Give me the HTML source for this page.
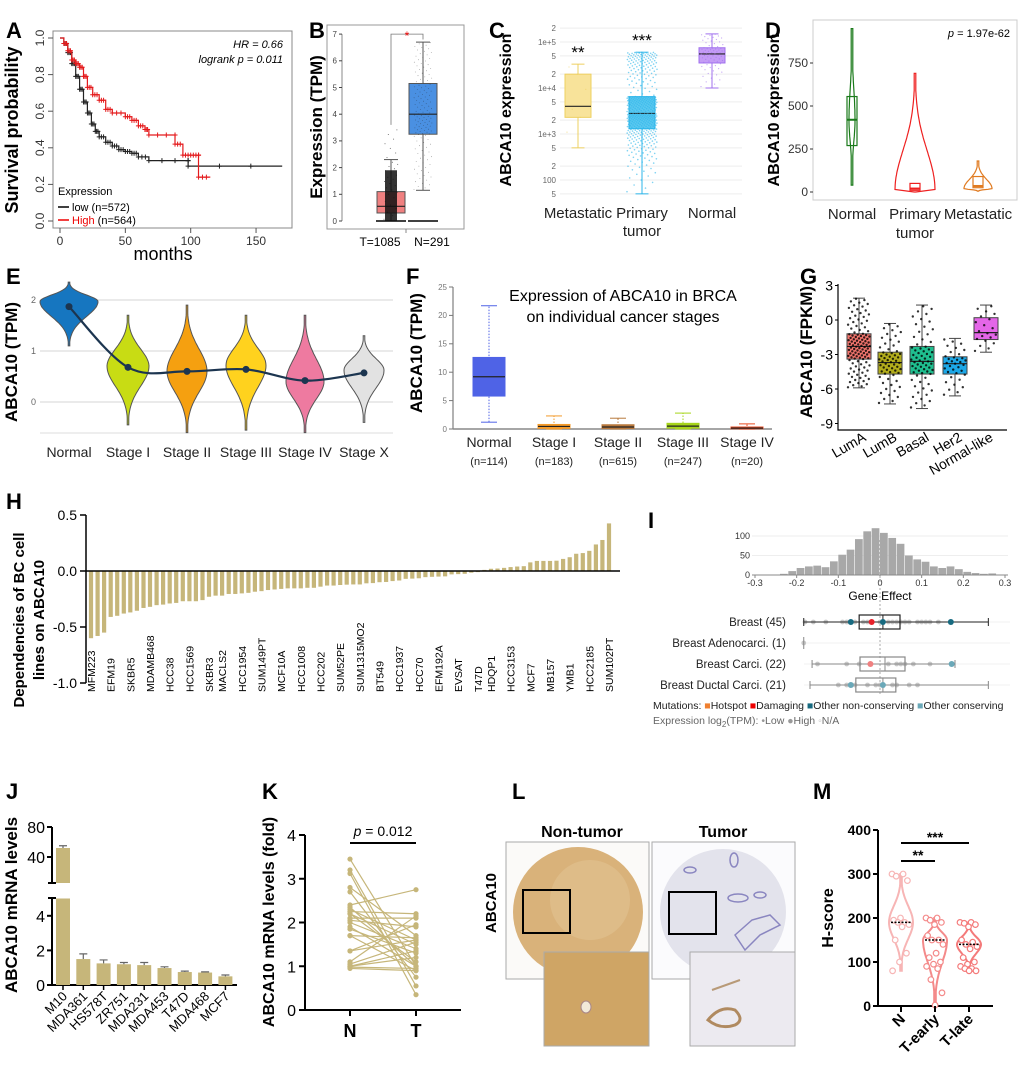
<!DOCTYPE html>
<html><head><meta charset="utf-8">
<style>
html,body{margin:0;padding:0;background:#fff;}
svg{display:block;font-family:"Liberation Sans",Arial,sans-serif;}
</style></head>
<body>
<svg id="fig" width="1020" height="1067" viewBox="0 0 1020 1067" xmlns="http://www.w3.org/2000/svg">
<rect x="0" y="0" width="1020" height="1067" fill="#fff"/>
<g font-weight="bold" font-size="22" fill="#000">
<text x="6" y="38">A</text>
<text x="309" y="38">B</text>
<text x="489" y="38">C</text>
<text x="765" y="38">D</text>
<text x="6" y="284">E</text>
<text x="406" y="284">F</text>
<text x="800" y="284">G</text>
<text x="6" y="509">H</text>
<text x="648" y="528">I</text>
<text x="6" y="799">J</text>
<text x="262" y="799">K</text>
<text x="512" y="799">L</text>
<text x="813" y="799">M</text>
</g>
<!-- Panel A static -->
<rect x="53" y="31" width="239" height="197" fill="none" stroke="#888" stroke-width="1"/>
<text x="18" y="130" font-size="18" text-anchor="middle" transform="rotate(-90 18 130)" font-weight="600">Survival probability</text>
<text x="163" y="260" font-size="18" text-anchor="middle">months</text>
<text x="283" y="48" font-size="11" font-style="italic" text-anchor="end">HR = 0.66</text>
<text x="283" y="63" font-size="11" font-style="italic" text-anchor="end">logrank p = 0.011</text>
<text x="58" y="195" font-size="11">Expression</text>
<line x1="58" y1="207" x2="69" y2="207" stroke="#000" stroke-width="1.5"/>
<text x="72" y="211" font-size="11">low (n=572)</text>
<line x1="58" y1="220" x2="69" y2="220" stroke="#e00" stroke-width="1.5"/>
<text x="72" y="224" font-size="11"><tspan fill="#e00">High</tspan> (n=564)</text>
<!-- Panel B static -->
<rect x="327" y="25" width="137" height="204" fill="none" stroke="#999"/>
<text x="322" y="127" font-size="17" font-weight="600" text-anchor="middle" transform="rotate(-90 322 127)">Expression (TPM)</text>
<!-- Panel C static -->
<text x="511" y="110" font-size="16" font-weight="bold" text-anchor="middle" transform="rotate(-90 511 110)">ABCA10 expression</text>
<!-- Panel D static -->
<rect x="813" y="20" width="204" height="180" fill="none" stroke="#ccc"/>
<text x="779" y="110" font-size="16" font-weight="bold" text-anchor="middle" transform="rotate(-90 779 110)">ABCA10 expression</text>
<text x="1010" y="37" font-size="11" text-anchor="end"><tspan font-style="italic">p</tspan> = 1.97e-62</text>
<!-- Panel E static -->
<text x="17" y="362" font-size="17" font-weight="bold" text-anchor="middle" transform="rotate(-90 17 362)">ABCA10 (TPM)</text>
<!-- Panel F static -->
<text x="422" y="353" font-size="17" font-weight="bold" text-anchor="middle" transform="rotate(-90 422 353)">ABCA10 (TPM)</text>
<text x="623" y="301" font-size="16" text-anchor="middle">Expression of ABCA10 in BRCA</text>
<text x="623" y="322" font-size="16" text-anchor="middle">on individual cancer stages</text>
<!-- Panel G static -->
<text x="812" y="352" font-size="17" font-weight="bold" text-anchor="middle" transform="rotate(-90 812 352)">ABCA10 (FPKM)</text>
<!-- Panel H static -->
<text x="24" y="620" font-size="15" font-weight="bold" text-anchor="middle" transform="rotate(-90 24 620)">Dependencies of BC cell</text>
<text x="44" y="620" font-size="15" font-weight="bold" text-anchor="middle" transform="rotate(-90 44 620)">lines on ABCA10</text>
<!-- Panel I static -->
<text x="880" y="600" font-size="12" text-anchor="middle">Gene Effect</text>
<text x="653" y="709" font-size="10.5" fill="#222">Mutations: <tspan fill="#f08030">■</tspan>Hotspot <tspan fill="#e00">■</tspan>Damaging <tspan fill="#176a80">■</tspan>Other non-conserving <tspan fill="#6aa8b8">■</tspan>Other conserving</text>
<text x="653" y="724" font-size="10.5" fill="#666">Expression log<tspan font-size="8" dy="3">2</tspan><tspan dy="-3">(TPM): </tspan><tspan fill="#999">•</tspan>Low <tspan fill="#999">●</tspan>High <tspan fill="#bbb">◦</tspan>N/A</text>
<!-- Panel J static -->
<text x="17" y="905" font-size="17" font-weight="bold" text-anchor="middle" transform="rotate(-90 17 905)">ABCA10 mRNA levels</text>
<!-- Panel K static -->
<text x="274" y="922" font-size="16" font-weight="bold" text-anchor="middle" transform="rotate(-90 274 922)">ABCA10 mRNA levels (fold)</text>
<!-- Panel L static -->
<text x="496" y="903" font-size="15" font-weight="bold" text-anchor="middle" transform="rotate(-90 496 903)">ABCA10</text>
<text x="582" y="837" font-size="16" font-weight="bold" text-anchor="middle">Non-tumor</text>
<text x="723" y="837" font-size="16" font-weight="bold" text-anchor="middle">Tumor</text>
<g>
<rect x="506" y="842" width="143" height="137" fill="#fbfaf8" stroke="#aaa"/>
<circle cx="578" cy="912" r="65" fill="#d9b27a"/>
<circle cx="590" cy="900" r="40" fill="#e0c08e" opacity="0.7"/>
<rect x="523" y="890" width="47" height="43" fill="none" stroke="#000" stroke-width="2"/>
<rect x="544" y="952" width="105" height="94" fill="#cfa565" stroke="#aaa"/>
<ellipse cx="586" cy="1007" rx="5" ry="6" fill="#f2ead8" stroke="#a88"/>
</g>
<g>
<rect x="652" y="842" width="143" height="137" fill="#fbfbfd" stroke="#aaa"/>
<circle cx="723" cy="912" r="63" fill="#e3e3ec"/>
<g fill="none" stroke="#8a86c0" stroke-width="1.5">
<ellipse cx="690" cy="870" rx="6" ry="3"/>
<ellipse cx="734" cy="860" rx="4" ry="7"/>
<ellipse cx="738" cy="898" rx="10" ry="4"/>
<ellipse cx="760" cy="895" rx="6" ry="3"/>
<path d="M735 935 L752 920 L770 915 L780 925 L760 935 L745 950 Z"/>
</g>
<rect x="669" y="892" width="47" height="42" fill="none" stroke="#000" stroke-width="2"/>
<rect x="690" y="952" width="105" height="94" fill="#eceaf0" stroke="#aaa"/>
<path d="M708 1020 Q720 1005 735 1010 Q745 1020 735 1025 Q720 1030 708 1020 Z" fill="none" stroke="#b08a60" stroke-width="3"/>
<path d="M712 990 L740 980" stroke="#b89a78" stroke-width="2"/>
</g>
<!-- Panel M static -->
<text x="833" y="918" font-size="16" font-weight="bold" text-anchor="middle" transform="rotate(-90 833 918)">H-score</text>
<g id="dyn"></g>
</svg>
<script>
// ================= DATA =================
const kmLowT=[0,3,6,9,12,15,18,21,24,27,30,35,40,45,50,55,60,68,98,98,170];
const kmLowS=[1,.97,.92,.86,.79,.72,.65,.59,.53,.49,.46,.43,.41,.39,.38,.37,.35,.33,.33,.30,.30];
const kmHighT=[0,3,6,9,12,15,18,21,25,30,35,40,50,55,60,65,68,88,88,94,100,106,106,115];
const kmHighS=[1,.97,.93,.88,.86,.84,.79,.73,.69,.66,.61,.59,.57,.55,.52,.50,.47,.47,.42,.36,.36,.36,.24,.24];
const kmXTicks=[0,50,100,150];
const kmYTicks=[0,0.2,0.4,0.6,0.8,1.0];
const bCats=['T=1085','N=291'];
const bStats=[[0,0.3,0.55,1.1,2.3],[1.15,3.25,4.0,5.15,6.7]];
const bYTicks=[0,1,2,3,4,5,6,7];
const cCats=['Metastatic','Primary tumor','Normal'];
const cStats=[[500,2300,4000,20000,33000],[50,1300,2800,6500,60000],[10000,35000,55000,75000,150000]];
const cStars=['**','***',''];
const cTickVals=[50,100,200,500,1000,2000,5000,10000,20000,50000,100000,200000];
const cTickLbls=['5','100','2','5','1e+3','2','5','1e+4','2','5','1e+5','2'];
const dCats=['Normal','Primary tumor','Metastatic'];
const dViol=[[40,420,950],[0,12,690],[5,20,180]];
const dBox=[[270,420,555],[10,20,50],[25,35,90]];
const dYTicks=[0,250,500,750];
const eCats=['Normal','Stage I','Stage II','Stage III','Stage IV','Stage X'];
const eMeans=[1.87,0.68,0.60,0.64,0.42,0.57];
const eViol=[[1.1,1.97,2.35],[-0.45,0.7,1.7],[-0.6,0.6,1.9],[-0.55,0.72,1.7],[-0.6,0.4,1.7],[-0.4,0.62,1.3]];
const eYTicks=[0,1,2];
const fCats=['Normal','Stage I','Stage II','Stage III','Stage IV'];
const fN=['(n=114)','(n=183)','(n=615)','(n=247)','(n=20)'];
const fStats=[[1.2,5.8,9.2,12.6,21.7],[0,0.1,0.45,0.8,2.3],[0,0.08,0.35,0.75,1.9],[0,0.15,0.5,1.0,2.8],[0,0.05,0.15,0.35,0.9]];
const fYTicks=[0,5,10,15,20,25];
const gCats=['LumA','LumB','Basal','Her2','Normal-like'];
const gStats=[[-5.9,-3.4,-2.3,-1.2,1.9],[-7.3,-4.7,-3.7,-2.8,-0.3],[-7.7,-4.7,-3.6,-2.3,1.3],[-6.6,-4.7,-3.8,-3.2,-1.6],[-2.8,-1.7,-1.1,0.2,1.3]];
const gYTicks=[-9,-6,-3,0,3];
const hVals=[-0.6,-0.58,-0.55,-0.41,-0.40,-0.38,-0.37,-0.355,-0.33,-0.32,-0.305,-0.30,-0.29,-0.285,-0.27,-0.27,-0.27,-0.26,-0.23,-0.22,-0.22,-0.205,-0.205,-0.2,-0.195,-0.185,-0.18,-0.17,-0.165,-0.16,-0.155,-0.155,-0.155,-0.15,-0.15,-0.14,-0.13,-0.13,-0.125,-0.122,-0.12,-0.12,-0.11,-0.108,-0.10,-0.098,-0.09,-0.085,-0.07,-0.068,-0.065,-0.055,-0.052,-0.05,-0.048,-0.03,-0.028,-0.025,-0.015,-0.01,0.01,0.02,0.022,0.028,0.035,0.04,0.043,0.077,0.09,0.09,0.09,0.092,0.108,0.123,0.154,0.16,0.18,0.237,0.277,0.425];
const hLabels=['MFM223','EFM19','SKBR5','MDAMB468','HCC38','HCC1569','SKBR3','MACLS2','HCC1954','SUM149PT','MCF10A','HCC1008','HCC202','SUM52PE','SUM1315MO2','BT549','HCC1937','HCC70','EFM192A','EVSAT','T47D','HDQP1','HCC3153','MCF7','MB157','YMB1','HCC2185','SUM102PT'];
const hYTicks=[-1.0,-0.5,0.0,0.5];
const iBinCenters=[-0.29,-0.27,-0.25,-0.23,-0.21,-0.19,-0.17,-0.15,-0.13,-0.11,-0.09,-0.07,-0.05,-0.03,-0.01,0.01,0.03,0.05,0.07,0.09,0.11,0.13,0.15,0.17,0.19,0.21,0.23,0.25,0.27,0.29];
const iCounts=[1,1,1,3,10,18,22,24,20,35,52,65,92,112,120,108,95,80,50,40,34,22,18,22,15,8,5,3,4,1];
const iXTicks=[-0.3,-0.2,-0.1,0,0.1,0.2,0.3];
const iYTicks=[0,50,100];
const iRows=['Breast (45)','Breast Adenocarci. (1)','Breast Carci. (22)','Breast Ductal Carci. (21)'];
const iStats=[[-0.183,-0.05,0.007,0.048,0.26],null,[-0.163,-0.048,0.012,0.06,0.18],[-0.168,-0.058,0.007,0.038,0.26]];
const iGrey=[[-0.18,-0.16,-0.13,-0.09,-0.08,-0.06,-0.04,-0.03,0.0,0.02,0.03,0.04,0.05,0.06,0.07,0.09,0.1,0.11,0.12,0.14],[-0.183],[-0.15,-0.08,-0.05,0.02,0.04,0.05,0.06,0.08,0.12],[-0.1,-0.08,-0.06,-0.03,-0.01,0.0,0.03,0.04,0.07,0.09]];
const iMutVals=[[-0.07,-0.02,0.007,0.17],[],[-0.023,0.172],[-0.07,0.007]];
const iMutCols=[['#176a80','#e8202a','#176a80','#176a80'],[],['#f08080','#6aa8b8'],['#6aa8b8','#6aa8b8']];
const jCats=['M10','MDA361','HS578T','ZR751','MDA231','MDA453','T47D','MDA468','MCF7'];
const jVals=[52,1.5,1.25,1.2,1.15,0.98,0.75,0.72,0.5];
const jErr=[3,0.3,0.2,0.1,0.15,0.07,0.05,0.04,0.08];
const kN=[3.45,3.2,3.12,2.8,2.7,2.4,2.35,2.3,2.25,2.2,2.2,2.1,2.05,2.0,1.9,1.85,1.7,1.7,1.35,1.35,1.1,1.05,1.0,1.0,0.98,0.95];
const kT=[1.0,0.55,0.35,1.7,0.75,2.75,1.0,1.6,2.2,1.5,1.1,2.1,1.9,1.4,1.0,1.3,1.65,0.9,1.95,1.6,2.15,1.55,1.35,1.2,0.95,0.9];
const kYTicks=[0,1,2,3,4];
const mCats=['N','T-early','T-late'];
const mViol=[[80,190,300],[0,150,200],[80,140,190]];
const mMed=[190,150,140];
const mPts=[[300,300,295,285,200,195,190,190,185,180,150,120,100,80],[200,200,195,190,185,160,150,150,140,120,110,100,95,90,85,60,30,2],[190,190,188,185,180,150,145,140,135,130,110,100,95,90,85,85,80,80]];
const mYTicks=[0,100,200,300,400];

// ================= HELPERS =================
const NS='http://www.w3.org/2000/svg';
const root=document.getElementById('dyn');
function mk(tag,a,p){const e=document.createElementNS(NS,tag);for(const k in a)e.setAttribute(k,a[k]);(p||root).appendChild(e);return e;}
function tx(s,a,p){const e=mk('text',a,p);e.textContent=s;return e;}
function qv(st,u){const qs=[0,0.25,0.5,0.75,1];for(let i=0;i<4;i++){if(u<=qs[i+1]){const f=(u-qs[i])/(qs[i+1]-qs[i]);return st[i]+(st[i+1]-st[i])*f;}}return st[4];}
function frac(x){return x-Math.floor(x);}
function violinD(cx,ys,lo,mode,hi,w){const n=48,L=[],R=[];for(let i=0;i<=n;i++){const v=lo+(hi-lo)*i/n;const s=v<mode?(mode-lo)/2.1:(hi-mode)/2.1;const hw=Math.max(0.8,w*Math.exp(-Math.pow((v-mode)/(s||1),2)));L.push([cx-hw,ys(v)]);R.push([cx+hw,ys(v)]);}
 const pts=L.concat(R.reverse());return 'M'+pts.map(p=>p[0].toFixed(1)+' '+p[1].toFixed(1)).join(' L')+' Z';}
function box(cx,ys,st,w,fill,stroke,dashW,g){
 let e=mk('line',{x1:cx,x2:cx,y1:ys(st[0]),y2:ys(st[4]),stroke:stroke,'stroke-width':1,'stroke-dasharray':dashW||'none'},g);
 
 
 e=mk('line',{x1:cx-w/4,x2:cx+w/4,y1:ys(st[4]),y2:ys(st[4]),stroke:stroke},g);
 
 
 e=mk('line',{x1:cx-w/4,x2:cx+w/4,y1:ys(st[0]),y2:ys(st[0]),stroke:stroke},g);
 
 
 e=mk('rect',{x:cx-w/2,y:ys(st[3]),width:w,height:Math.max(1,ys(st[1])-ys(st[3])),fill:fill,stroke:stroke},g);
 
 
 e=mk('line',{x1:cx-w/2,x2:cx+w/2,y1:ys(st[2]),y2:ys(st[2]),stroke:'#222','stroke-width':1.2},g);
 
 
}
function jitter(n,st,cx,w,ys,r,col,op,g){for(let i=0;i<n;i++){const u=(i+0.5)/n;const v=qv(st,u);const x=cx+(frac(i*0.6180339)-0.5)*w;
 const e=mk('circle',{cx:x.toFixed(1),cy:ys(v).toFixed(1),r:r,fill:col,opacity:op},g);
 
 }}
function yTicks(vals,ys,x,lbls,size,col,g,len){vals.forEach((v,i)=>{const y=ys(v);
 let e=mk('line',{x1:x-(len||4),x2:x,y1:y,y2:y,stroke:col||'#000'},g);
 
 
 e=tx(lbls?lbls[i]:String(v),{x:x-(len||4)-2,y:y+size*0.35,'font-size':size,'text-anchor':'end',fill:col||'#000'},g);
 
 });}

// ================= PANEL A =================
(function(){
 const g=mk('g',{});
 
 
 const xs=t=>60+t*1.307, ys=s=>221-s*183;
 kmXTicks.forEach(t=>{let e=mk('line',{x1:xs(t),x2:xs(t),y1:228,y2:233,stroke:'#555'},g);
  
  
  e=tx(String(t),{x:xs(t),y:245,'font-size':12,'text-anchor':'middle',fill:'#333'},g);
  
  });
 kmYTicks.forEach(v=>{let e=mk('line',{x1:48,x2:53,y1:ys(v),y2:ys(v),stroke:'#555'},g);
  
  
  e=tx(v.toFixed(1),{x:44,y:ys(v),'font-size':12,'text-anchor':'middle',fill:'#333',transform:`rotate(-90 44 ${ys(v)})`},g);
  
  });
 function curve(T,S,col,name){let d=`M${xs(T[0])} ${ys(S[0])}`;for(let i=1;i<T.length;i++){d+=` L${xs(T[i]).toFixed(1)} ${ys(S[i-1]).toFixed(1)} L${xs(T[i]).toFixed(1)} ${ys(S[i]).toFixed(1)}`;}
  const p=mk('path',{d:d,fill:'none',stroke:col,'stroke-width':1.2},g);
  
  
  for(let i=1;i<T.length-1;i++){for(let k=0;k<3;k++){const t=T[i]+(T[i+1]-T[i])*k/3;const x=xs(t),y=ys(S[i]);
   const c=mk('path',{d:`M${x-2.5} ${y}h5M${x} ${y-2.5}v5`,stroke:col,'stroke-width':1},g);
   
   }}}
 curve(kmLowT,kmLowS,'#222','km-curve-low');
 curve(kmHighT,kmHighS,'#e41a1c','km-curve-high');
})();

// ================= PANEL B =================
(function(){
 const g=mk('g',{});
 
 
 const ys=v=>221-v*26.7, xc=[391,423], lx=[380,432];
 let e=mk('line',{x1:342,x2:342,y1:ys(0),y2:ys(7),stroke:'#888'},g);
 
 
 yTicks(bYTicks,ys,342,null,8,'#444',g,3);
 const cols=['#f08080','#4a90e2'];
 bCats.forEach((c,i)=>{
  box(xc[i],ys,bStats[i],28,cols[i],'#555',null,g);
  e=mk('line',{x1:xc[i]-15,x2:xc[i]+15,y1:ys(0),y2:ys(0),stroke:'#000','stroke-width':1.5},g);
  
  
  e=tx(c,{x:lx[i],y:246,'font-size':12,'text-anchor':'middle'},g);
  
  
  e=mk('line',{x1:(lx[0]+lx[1])/2,x2:(lx[0]+lx[1])/2,y1:229,y2:233,stroke:'#888'},g);
  
  
 });
 e=mk('rect',{x:xc[0]-6,y:ys(1.9),width:12,height:ys(0)-ys(1.9),fill:'#111',opacity:0.85},g);
 
 
 jitter(30,[0,1.0,1.6,2.2,3.5],xc[0],14,ys,0.5,'#111',0.7,g);
 jitter(140,[1.15,3.2,4.0,5.1,6.7],xc[1],18,ys,0.4,'#222',0.6,g);
 e=mk('path',{d:`M${xc[0]} ${ys(3.6)} V${ys(7)} H${xc[1]} V${ys(6.8)}`,fill:'none',stroke:'#777','stroke-width':0.8},g);
 
 
 e=tx('*',{x:(xc[0]+xc[1])/2,y:ys(7)+6,'font-size':12,'text-anchor':'middle',fill:'#e00'},g);
 
 
})();

// ================= PANEL C =================
(function(){
 const g=mk('g',{});
 
 
 const ys=v=>88-46*Math.log10(v/10000), xc=[578,642,712];
 cTickVals.forEach((v,i)=>{let e=mk('line',{x1:560,x2:742,y1:ys(v),y2:ys(v),stroke:'#eee'},g);
  
  
  e=tx(cTickLbls[i],{x:556,y:ys(v)+3,'font-size':8,'text-anchor':'end',fill:'#666'},g);
  
  });
 const fills=['#f8e39a','#5bc8f0','#c49cf5'], strokes=['#eed060','#2bb5ea','#a070ee'];
 cCats.forEach((c,i)=>{
  box(xc[i],ys,cStats[i],26,fills[i],strokes[i],null,g);
  const n=[6,450,70][i];
  jitter(n,cStats[i],xc[i],i==1?30:22,ys,i==1?0.8:0.6,strokes[i],0.6,g);
  let e=tx(cStars[i],{x:xc[i],y:ys(cStats[i][4])-6,'font-size':17,'text-anchor':'middle'},g);
  
  
  const parts=c.split(' ');
  parts.forEach((p,k)=>{e=tx(p,{x:xc[i],y:218+k*18,'font-size':15,'text-anchor':'middle',fill:'#222'},g);
   
   });
 });
})();

// ================= PANEL D =================
(function(){
 const g=mk('g',{});
 
 
 const ys=v=>192-v*0.172, xc=[852,915,978];
 yTicks(dYTicks,ys,813,null,12,'#333',g,3);
 const cols=['#1a7a1a','#ee2020','#e07a20'], ws=[3,20,14];
 dCats.forEach((c,i)=>{
  let e=mk('path',{d:violinD(xc[i],ys,dViol[i][0],dViol[i][1],dViol[i][2],ws[i]),fill:'#fff',stroke:cols[i],'stroke-width':1.2},g);
  
  
  const b=dBox[i];
  e=mk('rect',{x:xc[i]-5,y:ys(b[2]),width:10,height:Math.max(2,ys(b[0])-ys(b[2])),fill:'none',stroke:cols[i],'stroke-width':1.2},g);
  
  
  e=mk('line',{x1:xc[i]-5,x2:xc[i]+5,y1:ys(b[1]),y2:ys(b[1]),stroke:cols[i],'stroke-width':2},g);
  
  
  const parts=c.split(' ');
  parts.forEach((p,k)=>{e=tx(p,{x:xc[i],y:219+k*19,'font-size':15,'text-anchor':'middle',fill:'#222'},g);
   
   });
 });
})();

// ================= PANEL E =================
(function(){
 const g=mk('g',{});
 
 
 const ys=v=>402-v*51, xc=[69,128,187,246,305,364];
 eYTicks.forEach(v=>{let e=mk('line',{x1:40,x2:393,y1:ys(v),y2:ys(v),stroke:'#ddd','stroke-width':1.2},g);
  
  
  e=tx(String(v),{x:36,y:ys(v)+3,'font-size':9,'text-anchor':'end',fill:'#666'},g);
  
  });
 let e=mk('line',{x1:40,x2:393,y1:433,y2:433,stroke:'#ddd'},g);
 
 
 const cols=['#1676c0','#c8dc14','#f5a010','#ffd21e','#ee7aa0','#e2e2e2'], ws=[29,21,20,20,19,20];
 eCats.forEach((c,i)=>{
  const v=eViol[i];
  e=mk('path',{d:violinD(xc[i],ys,v[0],v[1],v[2],ws[i]),fill:cols[i],stroke:'#555','stroke-width':1},g);
  
  
  e=tx(c,{x:xc[i],y:457,'font-size':14,'text-anchor':'middle',fill:'#222'},g);
  
  
 });
 const P=eMeans.map((m,i)=>[xc[i],ys(m)]);
 let d=`M${P[0][0]} ${P[0][1]}`;
 for(let i=0;i<P.length-1;i++){const p0=P[Math.max(0,i-1)],p1=P[i],p2=P[i+1],p3=P[Math.min(P.length-1,i+2)];
  const c1=[p1[0]+(p2[0]-p0[0])/6,p1[1]+(p2[1]-p0[1])/6],c2=[p2[0]-(p3[0]-p1[0])/6,p2[1]-(p3[1]-p1[1])/6];
  d+=` C${c1[0].toFixed(1)} ${c1[1].toFixed(1)} ${c2[0].toFixed(1)} ${c2[1].toFixed(1)} ${p2[0]} ${p2[1].toFixed(1)}`;}
 e=mk('path',{d:d,fill:'none',stroke:'#1c3550','stroke-width':2.2},g);
 
 
 P.forEach(p=>{const c=mk('circle',{cx:p[0],cy:p[1],r:3.5,fill:'#1c3550'},g);
  
  });
})();

// ================= PANEL F =================
(function(){
 const g=mk('g',{});
 
 
 const ys=v=>429-v*5.68, xc=[489,554,618,683,747];
 let e=mk('line',{x1:453,x2:453,y1:ys(0),y2:ys(25),stroke:'#666'},g);
 
 
 e=mk('line',{x1:453,x2:772,y1:ys(0),y2:ys(0),stroke:'#888','stroke-width':1.5},g);
 
 
 yTicks(fYTicks,ys,453,null,8,'#777',g,4);
 const fills=['#4f63e6','#f39a2a','#b8783c','#a6d41a','#e84a20'];
 fCats.forEach((c,i)=>{
  box(xc[i],ys,fStats[i],32,fills[i],fills[i],'1.5 1.5',g);
  e=tx(c,{x:xc[i],y:447,'font-size':14,'text-anchor':'middle',fill:'#222'},g);
  
  
  e=tx(fN[i],{x:xc[i],y:465,'font-size':11,'text-anchor':'middle',fill:'#222'},g);
  
  
 });
})();

// ================= PANEL G =================
(function(){
 const g=mk('g',{});
 
 
 const ys=v=>320-v*11.5, xc=[859,890,922,955,986];
 let e=mk('path',{d:`M838 284 V430 H1007`,fill:'none',stroke:'#000','stroke-width':1.2},g);
 
 
 yTicks(gYTicks,ys,838,null,14,'#000',g,3);
 const fills=['#f4766e','#b2ad1c','#1fbf8f','#1ca8e8','#e466e8'], n=[110,60,65,35,20];
 gCats.forEach((c,i)=>{
  box(xc[i],ys,gStats[i],24,fills[i],'#444',null,g);
  jitter(n[i],gStats[i],xc[i],22,ys,1.2,'#000',0.8,g);
  e=tx(c,{x:xc[i]+8,y:440,'font-size':14,'text-anchor':'end',transform:`rotate(-30 ${xc[i]+8} 440)`},g);
  
  
 });
})();

// ================= PANEL H =================
(function(){
 const g=mk('g',{});
 
 
 const ys=v=>571-v*112, x0=91, dx=(609-91)/(hVals.length-1);
 let e=mk('line',{x1:86,x2:86,y1:ys(0.5),y2:ys(-1),stroke:'#000','stroke-width':1.5},g);
 
 
 hYTicks.forEach(v=>{e=mk('line',{x1:80,x2:86,y1:ys(v),y2:ys(v),stroke:'#000','stroke-width':1.5},g);
  
  
  e=tx(v.toFixed(1),{x:77,y:ys(v)+5,'font-size':14,'text-anchor':'end'},g);
  
  });
 hVals.forEach((v,i)=>{const x=x0+i*dx;
  const b=mk('rect',{x:(x-2.1).toFixed(1),y:Math.min(ys(v),ys(0)),width:4.2,height:Math.abs(ys(v)-ys(0)),fill:'#c6b67a'},g);
  
  });
 e=mk('line',{x1:86,x2:620,y1:ys(0),y2:ys(0),stroke:'#000','stroke-width':1.5},g);
 
 
 hLabels.forEach((l,k)=>{const i=Math.round(k*(hVals.length-1)/(hLabels.length-1));const x=x0+i*dx+4;
  const t=tx(l,{x:x,y:692,'font-size':10.5,transform:`rotate(-90 ${x} 692)`},g);
  
  });
})();

// ================= PANEL I =================
(function(){
 const g=mk('g',{});
 
 
 const xs=v=>880+v*416.7, ys=c=>575-c*0.39, rowY=[622,643,664,685];
 iYTicks.forEach(v=>{let e=mk('line',{x1:752,x2:1008,y1:ys(v),y2:ys(v),stroke:'#eee'},g);
  
  
  e=tx(String(v),{x:750,y:ys(v)+3,'font-size':9,'text-anchor':'end',fill:'#333'},g);
  
  });
 iBinCenters.forEach((c,i)=>{const b=mk('rect',{x:xs(c-0.01),y:ys(iCounts[i]),width:416.7*0.02-0.6,height:ys(0)-ys(iCounts[i]),fill:'#a8a8a8'},g);
  
  });
 let e=mk('line',{x1:752,x2:1008,y1:ys(0),y2:ys(0),stroke:'#888'},g);
 
 
 iXTicks.forEach(v=>{e=mk('line',{x1:xs(v),x2:xs(v),y1:575,y2:578,stroke:'#888'},g);
  
  
  e=tx(v===0?'0':String(v),{x:xs(v),y:586,'font-size':9,'text-anchor':'middle',fill:'#333'},g);
  
  });
 e=mk('line',{x1:xs(0),x2:xs(0),y1:540,y2:695,stroke:'#aaa','stroke-dasharray':'2 2'},g);
 
 
 iRows.forEach((r,i)=>{const y=rowY[i];
  e=mk('line',{x1:804,x2:1010,y1:y,y2:y,stroke:'#f0f0f0'},g);
  
  
  e=tx(r,{x:786,y:y+4,'font-size':11.5,'text-anchor':'end',fill:'#222'},g);
  
  
  iGrey[i].forEach(v=>{const c=mk('circle',{cx:xs(v),cy:y,r:2.4,fill:'#c8c8c8'},g);
   
   });
  const st=iStats[i];const col=i==0?'#222':'#888';
  if(st){e=mk('line',{x1:xs(st[0]),x2:xs(st[4]),y1:y,y2:y,stroke:col},g);
   
   
   [st[0],st[4]].forEach(v=>{const c=mk('line',{x1:xs(v),x2:xs(v),y1:y-4,y2:y+4,stroke:col},g);
    
    });
   e=mk('rect',{x:xs(st[1]),y:y-7,width:xs(st[3])-xs(st[1]),height:14,fill:'none',stroke:col,'stroke-width':1.2},g);
   
   
   e=mk('line',{x1:xs(st[2]),x2:xs(st[2]),y1:y-7,y2:y+7,stroke:col},g);
   
   }
  else{e=mk('line',{x1:xs(iGrey[i][0]),x2:xs(iGrey[i][0]),y1:y-6,y2:y+6,stroke:'#888'},g);
   
   }
  iMutVals[i].forEach((v,k)=>{const c=mk('circle',{cx:xs(v),cy:y,r:3,fill:iMutCols[i][k]},g);
   
   });
 });
})();

// ================= PANEL J =================
(function(){
 const g=mk('g',{});
 
 
 const yl=v=>985-v*17.3, yu=v=>857-(v-40)*0.75, x0=63, dx=20.3;
 let e=mk('path',{d:'M52 827 V883 M48 883 H56 M48 898 H56 M52 898 V985 H237',fill:'none',stroke:'#000','stroke-width':2},g);
 
 
 [[40,yu],[80,yu]].forEach(p=>{const y=p[1](p[0]);e=mk('line',{x1:47,x2:52,y1:y,y2:y,stroke:'#000','stroke-width':2},g);
  
  
  e=tx(String(p[0]),{x:45,y:y+6,'font-size':16,'text-anchor':'end'},g);
  
  });
 [0,2,4].forEach(v=>{const y=yl(v);e=mk('line',{x1:47,x2:52,y1:y,y2:y,stroke:'#000','stroke-width':2},g);
  
  
  e=tx(String(v),{x:45,y:y+6,'font-size':16,'text-anchor':'end'},g);
  
  });
 jCats.forEach((c,i)=>{const x=x0+i*dx,v=jVals[i],er=jErr[i];
  const b=mk('rect',{x:x-7,y:v>5?yl(5):yl(v),width:14,height:v>5?yl(0)-yl(5):yl(0)-yl(v),fill:'#c6b67a'},g);
  
  
  if(v>5){const u=mk('rect',{x:x-7,y:yu(v),width:14,height:883-yu(v),fill:'#c6b67a'},g);
   
   }
  const ytop=v>5?yu(v+er):yl(v+er), ybar=v>5?yu(v):yl(v);
  e=mk('path',{d:`M${x} ${ybar} V${ytop} M${x-4} ${ytop} H${x+4}`,stroke:'#666','stroke-width':1.2,fill:'none'},g);
  
  
  e=mk('line',{x1:x,x2:x,y1:985,y2:990,stroke:'#000','stroke-width':1.5},g);
  
  
  e=tx(c,{x:x+5,y:997,'font-size':13,'text-anchor':'end',transform:`rotate(-45 ${x+5} 997)`},g);
  
  
 });
})();

// ================= PANEL K =================
(function(){
 const g=mk('g',{});
 
 
 const ys=v=>1010-v*43.75, xN=350, xT=416;
 let e=mk('path',{d:`M305 ${ys(4)} V1010 H461`,fill:'none',stroke:'#000','stroke-width':2},g);
 
 
 kYTicks.forEach(v=>{const y=ys(v);e=mk('line',{x1:299,x2:305,y1:y,y2:y,stroke:'#000','stroke-width':2},g);
  
  
  e=tx(String(v),{x:296,y:y+6,'font-size':16,'text-anchor':'end'},g);
  
  });
 kN.forEach((n,i)=>{const t=kT[i];
  e=mk('line',{x1:xN,x2:xT,y1:ys(n),y2:ys(t),stroke:'#c6b67a','stroke-width':1.2},g);
  
  
  [[xN,n],[xT,t]].forEach(p=>{const c=mk('circle',{cx:p[0],cy:ys(p[1]),r:2.6,fill:'#c6b67a'},g);
   
   });
 });
 [[xN,'N'],[xT,'T']].forEach(p=>{e=mk('line',{x1:p[0],x2:p[0],y1:1010,y2:1016,stroke:'#000','stroke-width':2},g);
  
  
  e=tx(p[1],{x:p[0],y:1037,'font-size':18,'font-weight':'bold','text-anchor':'middle'},g);
  
  });
 e=mk('line',{x1:xN,x2:xT,y1:843,y2:843,stroke:'#000','stroke-width':2},g);
 
 
 e=tx('',{x:383,y:836,'font-size':14,'text-anchor':'middle'},g);
 e.innerHTML='<tspan font-style="italic">p</tspan> = 0.012';
 
 
})();

// ================= PANEL M =================
(function(){
 const g=mk('g',{});
 
 
 const ys=v=>1006-v*0.44, xc=[901,935,969];
 let e=mk('path',{d:`M878 ${ys(400)} V1006 H993`,fill:'none',stroke:'#000','stroke-width':2},g);
 
 
 mYTicks.forEach(v=>{const y=ys(v);e=mk('line',{x1:873,x2:878,y1:y,y2:y,stroke:'#000','stroke-width':2},g);
  
  
  e=tx(String(v),{x:871,y:y+5,'font-size':14,'font-weight':'bold','text-anchor':'end'},g);
  
  });
 const cols=['#f7b5b5','#f48a8a','#f47a7a'];
 mCats.forEach((c,i)=>{const v=mViol[i];
  e=mk('path',{d:violinD(xc[i],ys,v[0],v[1],v[2],12),fill:'none',stroke:cols[i],'stroke-width':2},g);
  
  
  mPts[i].forEach((p,k)=>{const x=xc[i]+(frac(k*0.6180339)-0.5)*18;const cc=mk('circle',{cx:x.toFixed(1),cy:ys(p),r:2.8,fill:'#fff',stroke:cols[i],'stroke-width':1.2},g);
   
   });
  e=mk('line',{x1:xc[i]-10,x2:xc[i]+10,y1:ys(mMed[i]),y2:ys(mMed[i]),stroke:'#000','stroke-width':1.5,'stroke-dasharray':'2 1.5'},g);
  
  
  e=mk('line',{x1:xc[i],x2:xc[i],y1:1006,y2:1012,stroke:'#000','stroke-width':2},g);
  
  
  e=tx(c,{x:xc[i]+5,y:1020,'font-size':15,'font-weight':'bold','text-anchor':'end',transform:`rotate(-45 ${xc[i]+5} 1020)`},g);
  
  
 });
 e=mk('line',{x1:xc[0],x2:xc[1],y1:861,y2:861,stroke:'#000','stroke-width':2},g);
 
 
 e=tx('**',{x:918,y:860,'font-size':14,'font-weight':'bold','text-anchor':'middle'},g);
 
 
 e=mk('line',{x1:xc[0],x2:xc[2],y1:843,y2:843,stroke:'#000','stroke-width':2},g);
 
 
 e=tx('***',{x:935,y:842,'font-size':14,'font-weight':'bold','text-anchor':'middle'},g);
 
 
})();
</script>
</body></html>
